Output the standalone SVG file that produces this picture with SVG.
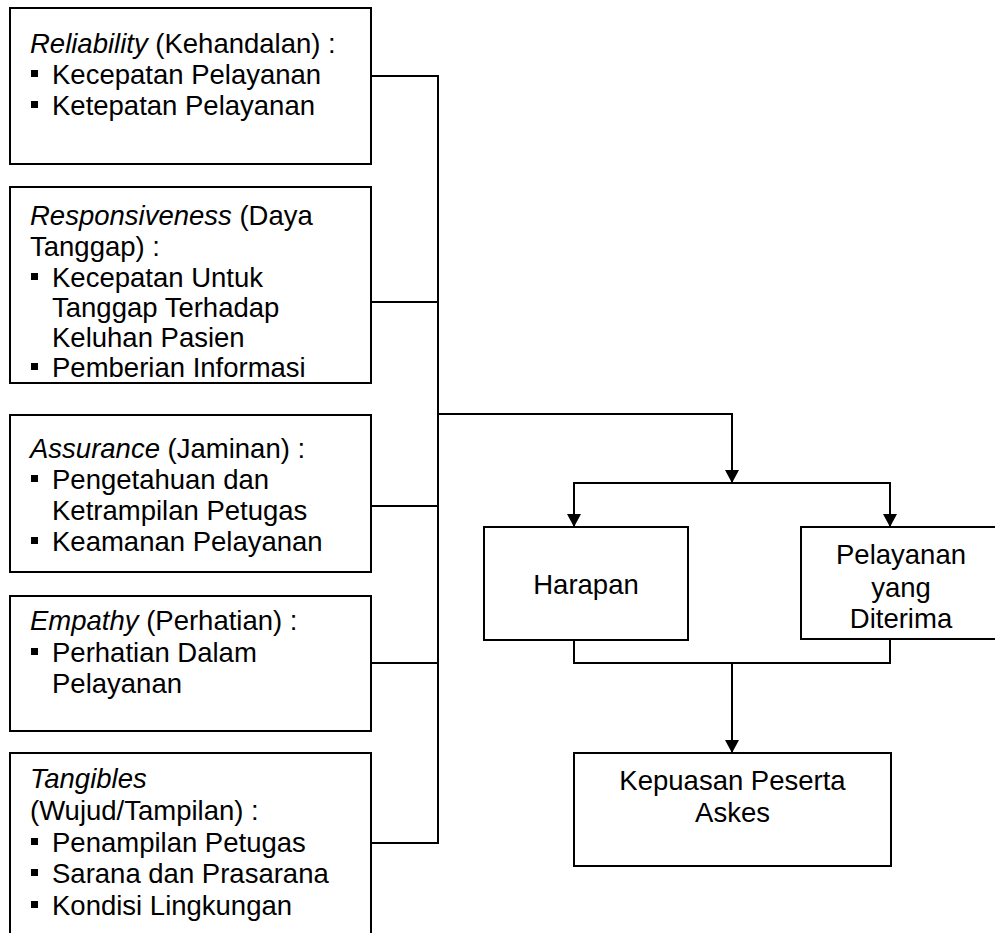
<svg xmlns="http://www.w3.org/2000/svg" width="995" height="933" viewBox="0 0 995 933">
<style>
.box{fill:#fff;stroke:#000;stroke-width:2}
.t{font-family:"Liberation Sans",Arial,sans-serif;font-size:27.5px;fill:#000}
.c{text-anchor:middle}
.i{font-style:italic}
.b{fill:#000}
.ln{fill:none;stroke:#000;stroke-width:2}
</style>
<defs>
<marker id="arr" markerUnits="userSpaceOnUse" markerWidth="14" markerHeight="14" refX="13" refY="7" orient="auto">
<path d="M0,0 L13,7 L0,14 z" fill="#000"/>
</marker>
</defs>
<rect width="995" height="933" fill="#fff"/>
<g id="connectors">
<path class="ln" d="M371,76 H438 M371,302 H438 M371,506 H438 M371,663 H438 M371,843 H438 M438,75 V844"/>
<path class="ln" d="M438,414 H732 V483" marker-end="url(#arr)"/>
<path class="ln" d="M732,483 H574 V527" marker-end="url(#arr)"/>
<path class="ln" d="M732,483 H890 V527" marker-end="url(#arr)"/>
<path class="ln" d="M574,640 V663 H890 V639"/>
<path class="ln" d="M732,663 V753" marker-end="url(#arr)"/>
</g>
<g id="reliability">
<rect class="box" x="10" y="8" width="361" height="156"/>
<text class="t" x="30" y="53"><tspan class="i">Reliability</tspan> (Kehandalan) :</text>
<rect class="b" x="31" y="70" width="7" height="7"/>
<text class="t" x="52" y="84">Kecepatan Pelayanan</text>
<rect class="b" x="31" y="101" width="7" height="7"/>
<text class="t" x="52" y="115">Ketepatan Pelayanan</text>
</g>
<g id="responsiveness">
<rect class="box" x="10" y="187" width="361" height="196"/>
<text class="t" x="30" y="225"><tspan class="i">Responsiveness</tspan> (Daya</text>
<text class="t" x="30" y="256">Tanggap) :</text>
<rect class="b" x="31" y="273" width="7" height="7"/>
<text class="t" x="52" y="287">Kecepatan Untuk</text>
<text class="t" x="52" y="317">Tanggap Terhadap</text>
<text class="t" x="52" y="347">Keluhan Pasien</text>
<rect class="b" x="31" y="363" width="7" height="7"/>
<text class="t" x="52" y="377">Pemberian Informasi</text>
</g>
<g id="assurance">
<rect class="box" x="10" y="415" width="361" height="157"/>
<text class="t" x="30" y="458"><tspan class="i">Assurance</tspan> (Jaminan) :</text>
<rect class="b" x="31" y="475" width="7" height="7"/>
<text class="t" x="52" y="489">Pengetahuan dan</text>
<text class="t" x="52" y="520">Ketrampilan Petugas</text>
<rect class="b" x="31" y="537" width="7" height="7"/>
<text class="t" x="52" y="551">Keamanan Pelayanan</text>
</g>
<g id="empathy">
<rect class="box" x="10" y="596" width="361" height="135"/>
<text class="t" x="30" y="630"><tspan class="i">Empathy</tspan> (Perhatian) :</text>
<rect class="b" x="31" y="648" width="7" height="7"/>
<text class="t" x="52" y="662">Perhatian Dalam</text>
<text class="t" x="52" y="693">Pelayanan</text>
</g>
<g id="tangibles">
<rect class="box" x="10" y="753" width="361" height="192"/>
<text class="t i" x="30" y="788">Tangibles</text>
<text class="t" x="30" y="820">(Wujud/Tampilan) :</text>
<rect class="b" x="31" y="838" width="7" height="7"/>
<text class="t" x="52" y="852">Penampilan Petugas</text>
<rect class="b" x="31" y="869" width="7" height="7"/>
<text class="t" x="52" y="883">Sarana dan Prasarana</text>
<rect class="b" x="31" y="901" width="7" height="7"/>
<text class="t" x="52" y="915">Kondisi Lingkungan</text>
</g>
<g id="harapan">
<rect class="box" x="484" y="527" width="204" height="113"/>
<text class="t c" x="586" y="594">Harapan</text>
</g>
<g id="pelayanan">
<rect class="box" x="801" y="527" width="200" height="112"/>
<text class="t c" x="901" y="564">Pelayanan</text>
<text class="t c" x="901" y="597">yang</text>
<text class="t c" x="901" y="628">Diterima</text>
</g>
<g id="kepuasan">
<rect class="box" x="574" y="753" width="317" height="113"/>
<text class="t c" x="732.5" y="790">Kepuasan Peserta</text>
<text class="t c" x="732.5" y="822">Askes</text>
</g>
</svg>
